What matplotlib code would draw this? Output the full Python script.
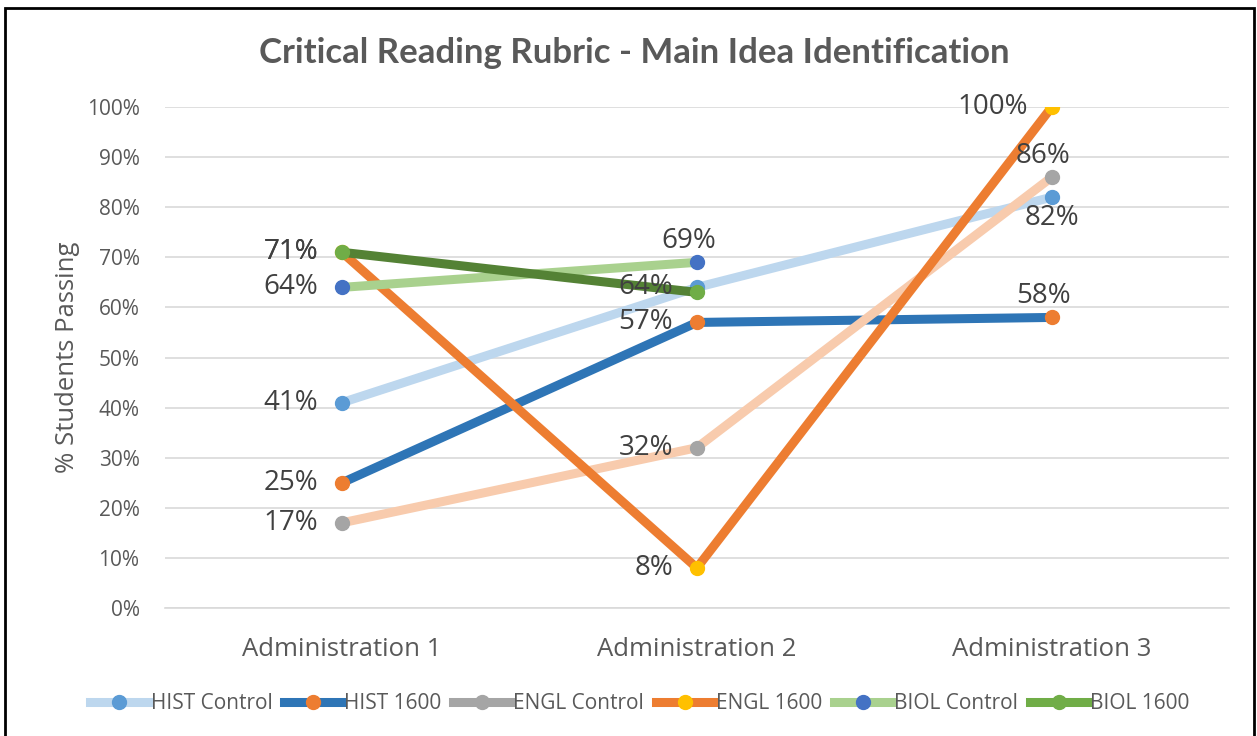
import numpy as np
import matplotlib
matplotlib.use("Agg")
import matplotlib.pyplot as plt
from matplotlib.lines import Line2D
from matplotlib.patches import Rectangle

plt.rcParams['font.family'] = ['Open Sans', 'DejaVu Sans']

categories = ["Administration 1", "Administration 2", "Administration 3"]
series_names = ["HIST Control", "HIST 1600", "ENGL Control", "ENGL 1600", "BIOL Control", "BIOL 1600"]
hist_control = [41, 64, 82]
hist_1600 = [25, 57, 58]
engl_control = [17, 32, 86]
engl_1600 = [71, 8, 100]
biol_control = [64, 69, np.nan]
biol_1600 = [71, 63, np.nan]
values = [hist_control, hist_1600, engl_control, engl_1600, biol_control, biol_1600]

# styles: line colour, marker colour, legend line colour
line_cols = ["#BDD7EE", "#2E75B6", "#F8CBAD", "#ED7D31", "#A9D18E", "#548235"]
mark_cols = ["#5B9BD5", "#ED7D31", "#A5A5A5", "#FFC000", "#4472C4", "#70AD47"]
leg_cols = ["#BDD7EE", "#2E75B6", "#A5A5A5", "#ED7D31", "#A9D18E", "#70AD47"]
# where each data label goes ('l' left, 'a' above, 'b' below, None no label)
label_pos = [["l", "l", "b"], ["l", "l", "a"], ["l", "l", "a"],
             ["l", "l", "l"], ["l", "a", None], ["l", None, None]]

fig = plt.figure(figsize=(12.57, 7.36), dpi=100)
ax = fig.add_axes([0.1309, 0.1739, 0.847, 0.6807])

x = np.arange(len(categories))
for i, vals in enumerate(values):
    v = np.array(vals, dtype=float) / 100
    ax.plot(x, v, color=line_cols[i], lw=6.5, solid_capstyle='round',
            marker='o', ms=10, mfc=mark_cols[i], mec=mark_cols[i], zorder=3 + i)
    for j, val in enumerate(vals):
        p = label_pos[i][j]
        if p is None or np.isnan(val):
            continue
        if p == "l":
            off, ha, va = (-17, 0), 'right', 'center'
        elif p == "a":
            off, ha, va = (-6, 5), 'center', 'bottom'
        else:
            off, ha, va = (0, -5), 'center', 'top'
        ax.annotate("%d%%" % val, (x[j], val / 100), xytext=off, textcoords='offset points',
                    ha=ha, va=va, fontsize=20, color='#404040', zorder=20)

ax.set_xlim(-0.5, 2.5)
ax.set_ylim(0, 1)
ax.set_yticks(np.arange(0, 1.01, 0.1))
ax.set_yticklabels(["%d%%" % t for t in range(0, 101, 10)], fontsize=15, color='#595959')
ax.set_xticks(x)
ax.set_xticklabels(categories, fontsize=18.5, color='#595959')
ax.tick_params(axis='y', length=0, pad=18)
ax.tick_params(axis='x', length=0, pad=21)
ax.grid(axis='y', color='#D9D9D9', lw=1.2)
ax.set_axisbelow(True)
for s in ['top', 'right', 'left']:
    ax.spines[s].set_visible(False)
ax.spines['bottom'].set_color('#D9D9D9')
ax.spines['bottom'].set_linewidth(1.2)
ax.set_ylabel("% Students Passing", fontsize=18.5, color='#595959', labelpad=5)

fig.text(0.505, 0.928, "Critical Reading Rubric - Main Idea Identification",
         ha='center', va='center', fontsize=25, fontweight='bold', color='#595959',
         family=['Lato', 'DejaVu Sans'])

handles = [Line2D([0], [0], color=leg_cols[i], lw=6.5, marker='o', ms=10,
                  mfc=mark_cols[i], mec=mark_cols[i]) for i in range(len(series_names))]
fig.legend(handles, series_names, loc='center', bbox_to_anchor=(0.509, 0.044), ncol=6,
           frameon=False, fontsize=15, handlelength=2.8, handletextpad=0.1,
           columnspacing=0.55, labelcolor='#595959')

fig.patches.append(Rectangle((5 / 1257, -0.02), 1249 / 1257, 1 - 8 / 736 + 0.02,
                             transform=fig.transFigure, fill=False, ec='black', lw=2))

plt.savefig('out.png', dpi=100)
